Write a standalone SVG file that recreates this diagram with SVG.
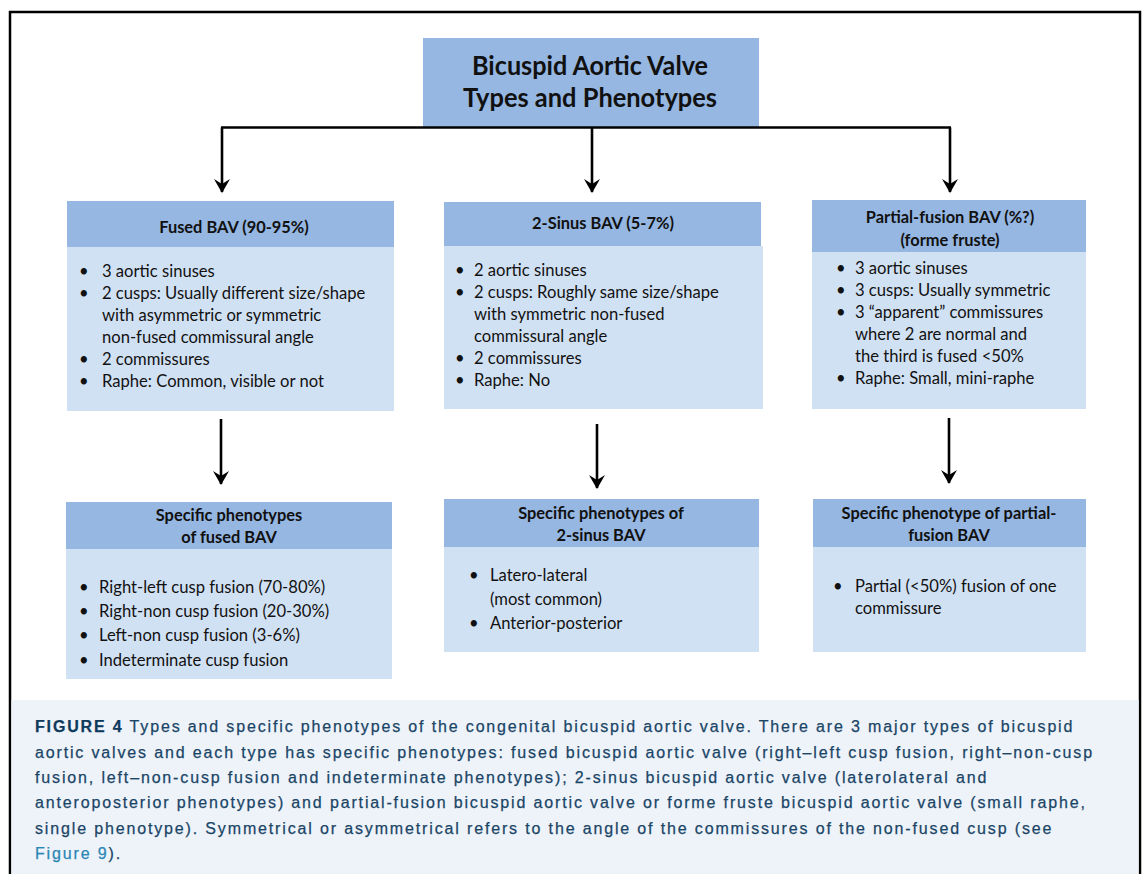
<svg xmlns="http://www.w3.org/2000/svg" width="1146" height="874" viewBox="0 0 1146 874">
<style>
.hdr{fill:#95b7e2}
.body{fill:#d1e1f4}
.t{font-family:Lato,"Liberation Sans",sans-serif;font-size:16.6px;fill:#111}
.h{font-family:Lato,"Liberation Sans",sans-serif;font-size:16.4px;font-weight:bold;fill:#111;text-anchor:middle}
.title{font-family:Lato,"Liberation Sans",sans-serif;font-size:26px;font-weight:bold;fill:#111;text-anchor:middle}
.cap{font-family:"Liberation Sans",Arial,sans-serif;font-size:16px;fill:#1a4566;stroke:#1a4566;stroke-width:0.25;letter-spacing:1.85px}
.conn{stroke:#000;stroke-width:2.6;fill:none}
</style>
<defs>
<marker id="ah" viewBox="0 0 15 16" refX="14" refY="8" markerWidth="15" markerHeight="16" markerUnits="userSpaceOnUse" orient="auto">
<path d="M1,0 L15,8 L1,16 L6,8 Z" fill="#000"/>
</marker>
</defs>
<rect x="10" y="12" width="1130" height="880" fill="#fff" stroke="#000" stroke-width="2.5"/>
<rect x="11.5" y="700" width="1127" height="180" fill="#eef3fa"/>

<g id="title">
<rect x="423" y="38" width="336" height="89" class="hdr"/>
<text class="title" x="590" y="75" textLength="236" lengthAdjust="spacingAndGlyphs">Bicuspid Aortic Valve</text>
<text class="title" x="590" y="107" textLength="254" lengthAdjust="spacingAndGlyphs">Types and Phenotypes</text>
</g>

<g id="connectors">
<path class="conn" d="M221,127.5 H951" stroke-width="3"/>
<path class="conn" d="M222,127.5 V192" marker-end="url(#ah)"/>
<path class="conn" d="M592,127.5 V192" marker-end="url(#ah)"/>
<path class="conn" d="M950,127.5 V192" marker-end="url(#ah)"/>
<path class="conn" d="M221,419 V484" marker-end="url(#ah)"/>
<path class="conn" d="M597,424 V488" marker-end="url(#ah)"/>
<path class="conn" d="M949,418 V483" marker-end="url(#ah)"/>
</g>

<g id="fused">
<rect x="67" y="201" width="327" height="46" class="hdr"/>
<rect x="67" y="247" width="327" height="164" class="body"/>
<text class="h" x="234" y="233">Fused BAV (90-95%)</text>
<g class="t">
<text x="79" y="277">•</text><text x="102" y="277">3 aortic sinuses</text>
<text x="79" y="299">•</text><text x="102" y="299">2 cusps: Usually different size/shape</text>
<text x="102" y="321">with asymmetric or symmetric</text>
<text x="102" y="343">non-fused commissural angle</text>
<text x="79" y="365">•</text><text x="102" y="365">2 commissures</text>
<text x="79" y="387">•</text><text x="102" y="387">Raphe: Common, visible or not</text>
</g>
</g>

<g id="twosinus">
<rect x="444" y="202" width="317" height="44" class="hdr"/>
<rect x="444" y="246" width="319" height="163" class="body"/>
<text class="h" x="603" y="229">2-Sinus BAV (5-7%)</text>
<g class="t">
<text x="455" y="276">•</text><text x="474" y="276">2 aortic sinuses</text>
<text x="455" y="298">•</text><text x="474" y="298">2 cusps: Roughly same size/shape</text>
<text x="474" y="320">with symmetric non-fused</text>
<text x="474" y="342">commissural angle</text>
<text x="455" y="364">•</text><text x="474" y="364">2 commissures</text>
<text x="455" y="386">•</text><text x="474" y="386">Raphe: No</text>
</g>
</g>

<g id="partial">
<rect x="812" y="200" width="274" height="52" class="hdr"/>
<rect x="812" y="252" width="274" height="157" class="body"/>
<text class="h" x="950" y="223">Partial-fusion BAV (%?)</text>
<text class="h" x="950" y="246">(forme fruste)</text>
<g class="t">
<text x="836" y="274">•</text><text x="855" y="274">3 aortic sinuses</text>
<text x="836" y="296">•</text><text x="855" y="296">3 cusps: Usually symmetric</text>
<text x="836" y="318">•</text><text x="855" y="318">3 “apparent” commissures</text>
<text x="855" y="340">where 2 are normal and</text>
<text x="855" y="362">the third is fused &lt;50%</text>
<text x="836" y="384">•</text><text x="855" y="384">Raphe: Small, mini-raphe</text>
</g>
</g>

<g id="pheno-fused">
<rect x="66" y="502" width="326" height="47" class="hdr"/>
<rect x="66" y="549" width="326" height="130" class="body"/>
<text class="h" x="229" y="521">Specific phenotypes</text>
<text class="h" x="229" y="543">of fused BAV</text>
<g class="t">
<text x="79" y="593">•</text><text x="99" y="593">Right-left cusp fusion (70-80%)</text>
<text x="79" y="617">•</text><text x="99" y="617">Right-non cusp fusion (20-30%)</text>
<text x="79" y="641">•</text><text x="99" y="641">Left-non cusp fusion (3-6%)</text>
<text x="79" y="666">•</text><text x="99" y="666">Indeterminate cusp fusion</text>
</g>
</g>

<g id="pheno-2sinus">
<rect x="444" y="499" width="315" height="48" class="hdr"/>
<rect x="444" y="547" width="315" height="105" class="body"/>
<text class="h" x="601" y="519">Specific phenotypes of</text>
<text class="h" x="601" y="541">2-sinus BAV</text>
<g class="t">
<text x="469" y="581">•</text><text x="490" y="581">Latero-lateral</text>
<text x="490" y="605">(most common)</text>
<text x="469" y="629">•</text><text x="490" y="629">Anterior-posterior</text>
</g>
</g>

<g id="pheno-partial">
<rect x="813" y="499" width="273" height="48" class="hdr"/>
<rect x="813" y="547" width="273" height="105" class="body"/>
<text class="h" x="949" y="519">Specific phenotype of partial-</text>
<text class="h" x="949" y="541">fusion BAV</text>
<g class="t">
<text x="833" y="592">•</text><text x="855" y="592">Partial (&lt;50%) fusion of one</text>
<text x="855" y="614">commissure</text>
</g>
</g>

<g id="caption" class="cap">
<text x="35" y="732"><tspan font-weight="bold" fill="#0e3a5c" stroke="#0e3a5c">FIGURE 4</tspan> Types and specific phenotypes of the congenital bicuspid aortic valve. There are 3 major types of bicuspid</text>
<text x="35" y="758">aortic valves and each type has specific phenotypes: fused bicuspid aortic valve (right–left cusp fusion, right–non-cusp</text>
<text x="35" y="783">fusion, left–non-cusp fusion and indeterminate phenotypes); 2-sinus bicuspid aortic valve (laterolateral and</text>
<text x="35" y="808">anteroposterior phenotypes) and partial-fusion bicuspid aortic valve or forme fruste bicuspid aortic valve (small raphe,</text>
<text x="35" y="834">single phenotype). Symmetrical or asymmetrical refers to the angle of the commissures of the non-fused cusp (see</text>
<text x="35" y="859"><tspan fill="#2a86b5" stroke="#2a86b5">Figure 9</tspan>).</text>
</g>
</svg>
